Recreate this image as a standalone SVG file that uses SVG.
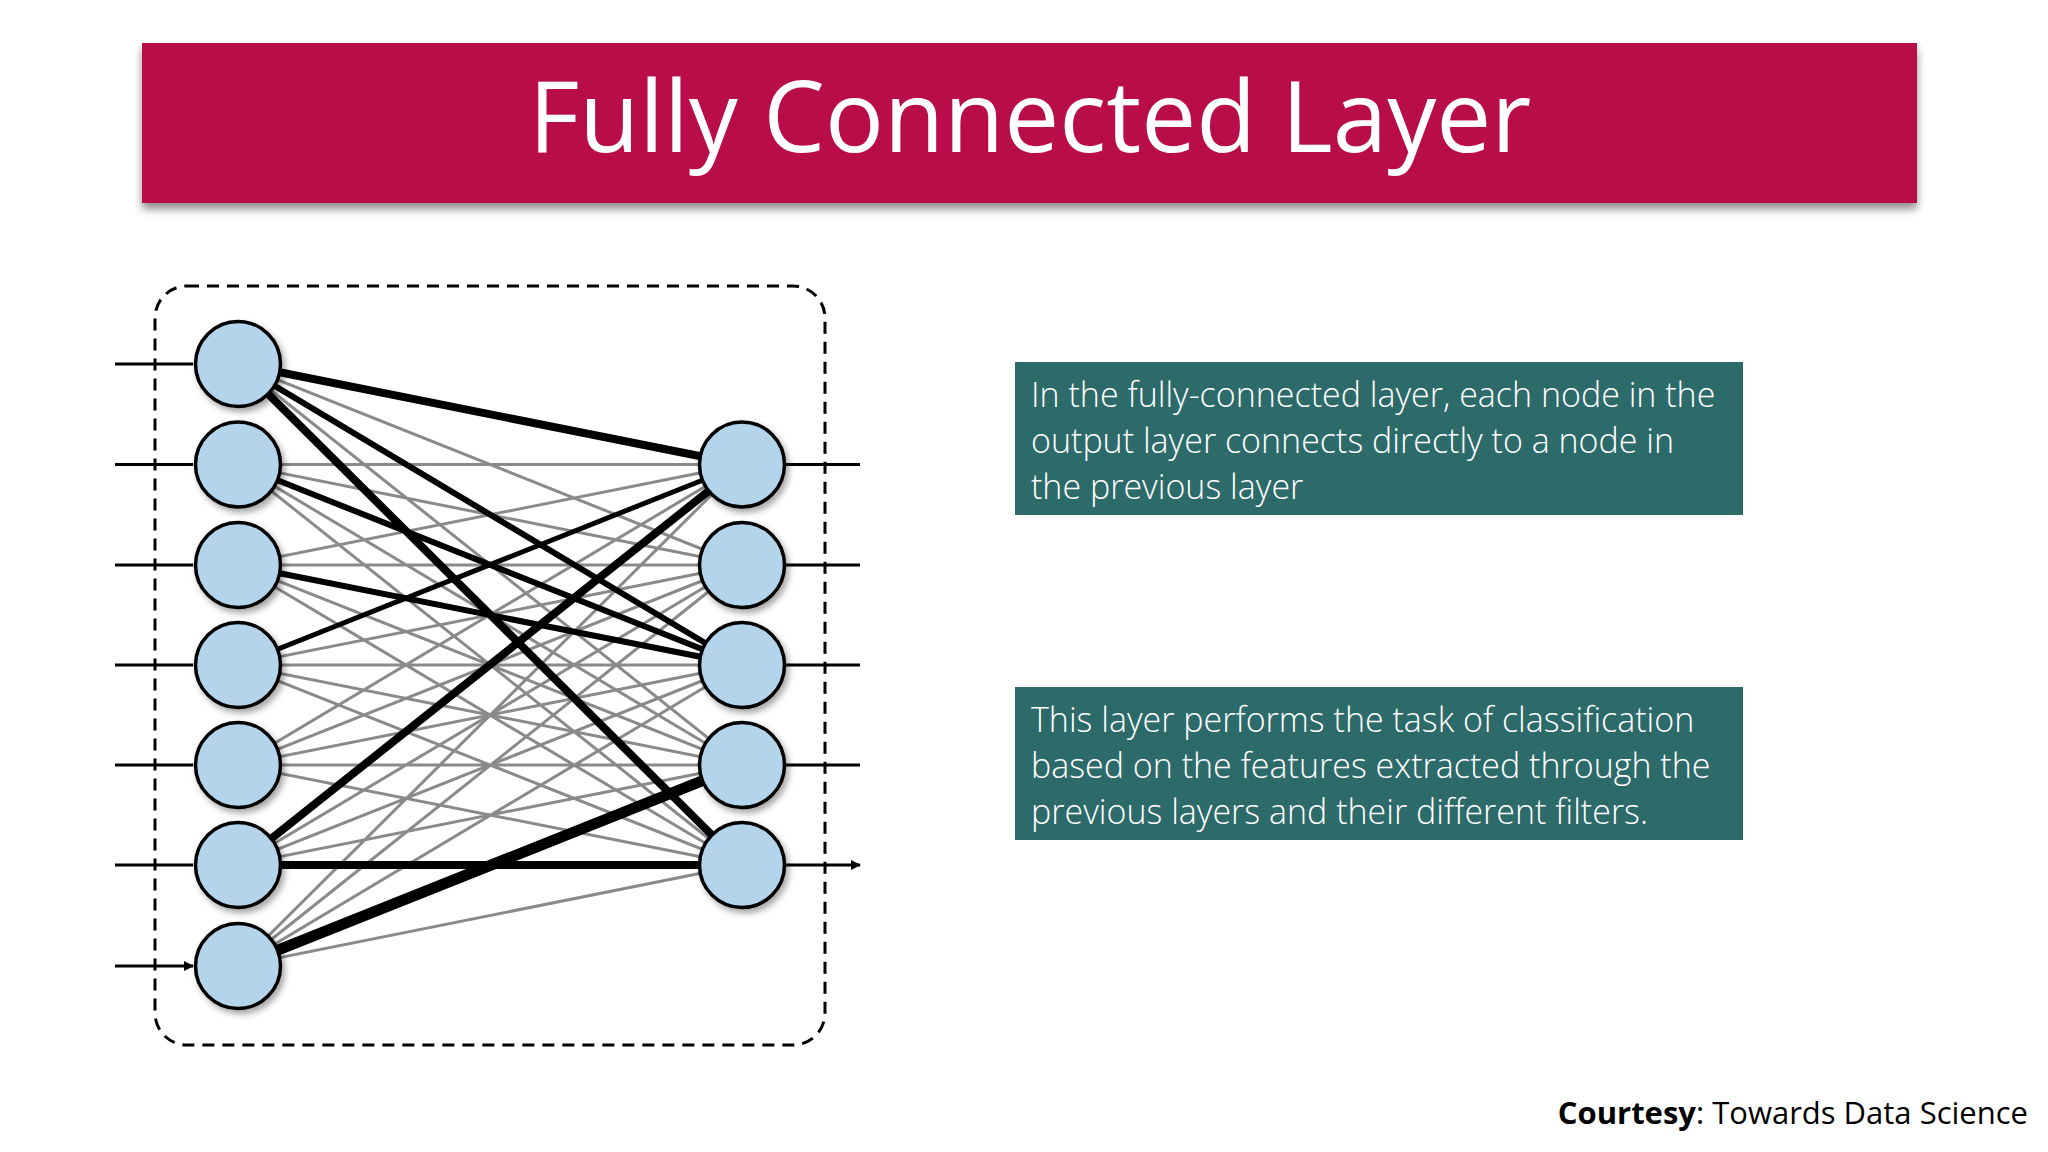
<svg xmlns="http://www.w3.org/2000/svg" width="2048" height="1152" viewBox="0 0 2048 1152">
<style>
.n{fill:#b3d4ea;stroke:#000;stroke-width:3.5}
.g{stroke:#8a8a8a;stroke-width:3}
.k{stroke:#000}
.t{font-family:"Open Sans","Liberation Sans",sans-serif;fill:#fff;font-size:34px;font-weight:300}
</style>
<defs>
<marker id="a" markerWidth="10" markerHeight="10" refX="9" refY="5" orient="auto" markerUnits="userSpaceOnUse" viewBox="0 0 10 10"><path d="M0,0L10,5L0,10z" fill="#000"/></marker>
<filter id="s" x="-5%" y="-20%" width="110%" height="150%"><feDropShadow dx="0" dy="6" stdDeviation="4" flood-opacity="0.45"/></filter>
<filter id="ns" x="-30%" y="-30%" width="160%" height="160%"><feDropShadow dx="3" dy="4" stdDeviation="3" flood-opacity="0.35"/></filter>
</defs>
<rect width="2048" height="1152" fill="#fff"/>
<g id="title"><rect x="142" y="43" width="1775" height="160" fill="#b8104a" filter="url(#s)"/>
<text x="1030" y="152" text-anchor="middle" font-family="'Open Sans','Liberation Sans',sans-serif" font-size="98" fill="#fff">Fully Connected Layer</text></g>
<rect x="155" y="286" width="670" height="759" rx="32" fill="none" stroke="#000" stroke-width="3" stroke-dasharray="12 8"/>
<g id="connectors">
<g class="g">
<path d="M238 364L742 464.5M238 364L742 565M238 364L742 665M238 364L742 765M238 364L742 865
M238 464.5L742 464.5M238 464.5L742 565M238 464.5L742 665M238 464.5L742 765M238 464.5L742 865
M238 565L742 464.5M238 565L742 565M238 565L742 665M238 565L742 765M238 565L742 865
M238 665L742 464.5M238 665L742 565M238 665L742 665M238 665L742 765M238 665L742 865
M238 765L742 464.5M238 765L742 565M238 765L742 665M238 765L742 765M238 765L742 865
M238 865L742 464.5M238 865L742 565M238 865L742 665M238 865L742 765M238 865L742 865
M238 966L742 464.5M238 966L742 565M238 966L742 665M238 966L742 765M238 966L742 865"/>
</g>
<g class="k">
<path d="M238 364L742 464.5" stroke-width="8"/>
<path d="M238 364L742 665" stroke-width="6"/>
<path d="M238 364L742 865" stroke-width="8"/>
<path d="M238 464.5L742 665" stroke-width="6"/>
<path d="M238 565L742 665" stroke-width="6"/>
<path d="M238 665L742 464.5" stroke-width="5"/>
<path d="M238 865L742 464.5" stroke-width="8"/>
<path d="M238 865L742 865" stroke-width="8"/>
<path d="M238 966L742 765" stroke-width="11"/>
</g>
<g stroke="#000" stroke-width="3" marker-end="url(#a)">
<path d="M115 364H193M115 464.5H193M115 565H193M115 665H193M115 765H193M115 865H193M115 966H193"/>
<path d="M784 464.5H860M784 565H860M784 665H860M784 765H860M784 865H860"/>
</g>
</g>
<g filter="url(#ns)">
<g id="in1"><circle class="n" cx="238" cy="364" r="42.5"/></g>
<g id="in2"><circle class="n" cx="238" cy="464.5" r="42.5"/></g>
<g id="in3"><circle class="n" cx="238" cy="565" r="42.5"/></g>
<g id="in4"><circle class="n" cx="238" cy="665" r="42.5"/></g>
<g id="in5"><circle class="n" cx="238" cy="765" r="42.5"/></g>
<g id="in6"><circle class="n" cx="238" cy="865" r="42.5"/></g>
<g id="in7"><circle class="n" cx="238" cy="966" r="42.5"/></g>
<g id="out1"><circle class="n" cx="742" cy="464.5" r="42.5"/></g>
<g id="out2"><circle class="n" cx="742" cy="565" r="42.5"/></g>
<g id="out3"><circle class="n" cx="742" cy="665" r="42.5"/></g>
<g id="out4"><circle class="n" cx="742" cy="765" r="42.5"/></g>
<g id="out5"><circle class="n" cx="742" cy="865" r="42.5"/></g>
</g>
<g id="box1"><rect x="1015" y="362" width="728" height="153" fill="#2d6a6a"/>
<text class="t" x="1031" y="407">In the fully-connected layer, each node in the</text>
<text class="t" x="1031" y="453">output layer connects directly to a node in</text>
<text class="t" x="1031" y="499">the previous layer</text></g>
<g id="box2"><rect x="1015" y="687" width="728" height="153" fill="#2d6a6a"/>
<text class="t" x="1031" y="732">This layer performs the task of classification</text>
<text class="t" x="1031" y="778">based on the features extracted through the</text>
<text class="t" x="1031" y="824">previous layers and their different filters.</text></g>
<text x="2028" y="1124" text-anchor="end" font-family="'Open Sans','Liberation Sans',sans-serif" font-size="31" fill="#000"><tspan font-weight="bold">Courtesy</tspan>: Towards Data Science</text>
</svg>
